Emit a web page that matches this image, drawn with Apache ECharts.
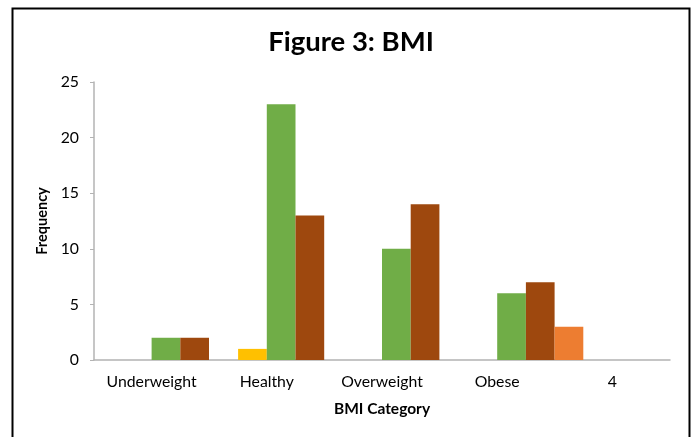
<!DOCTYPE html>
<html>
<head>
<meta charset="utf-8">
<script src="https://cdn.jsdelivr.net/npm/echarts@6/dist/echarts.min.js"></script>
<style>html,body{margin:0;padding:0;background:#fff}#c{width:691px;height:437px}</style>
</head>
<body>
<div id="c"></div>
<script>
const categories = ['Underweight', 'Healthy', 'Overweight', 'Obese', '4'];
const blankA = [null, null, null, null, null];
const blankB = [null, null, null, null, null];
const yellowSeries = [null, 1, null, null, null];
const greenSeries = [2, 23, 10, 6, null];
const brownSeries = [2, 13, 14, 7, null];
const orangeSeries = [null, null, null, 3, null];
const yTicks = [0, 5, 10, 15, 20, 25];

const FONT = 'Lato';
const chart = echarts.init(document.getElementById('c'), null, {renderer: 'canvas'});
function bar(name, data, color) {
  return {name, type: 'bar', data, barWidth: 28.7, barGap: '0%',
    itemStyle: {color}, animation: false, silent: true};
}
chart.setOption({
  animation: false,
  textStyle: {fontFamily: FONT},
  graphic: [
    {type: 'rect', shape: {x: 12.5, y: 8.5, width: 677, height: 440},
      style: {fill: 'none', stroke: '#000', lineWidth: 2}, silent: true},
    {type: 'text', x: 351, y: 28,
      style: {text: 'Figure 3: BMI', fontFamily: FONT, fontWeight: 'bold', fontSize: 27.5,
        fill: '#000', textAlign: 'center', textVerticalAlign: 'top'}}
  ],
  grid: {left: 94, right: 21, top: 82, bottom: 77},
  xAxis: {
    type: 'category', data: categories,
    name: 'BMI Category', nameLocation: 'middle', nameGap: 41,
    nameTextStyle: {fontFamily: FONT, fontWeight: 'bold', fontSize: 15.5, color: '#000'},
    axisLine: {lineStyle: {color: '#b3b3b3', width: 1.5}},
    axisTick: {show: false},
    axisLabel: {fontFamily: FONT, fontSize: 15.8, color: '#000', margin: 14,
      interval: 0, hideOverlap: false}
  },
  yAxis: {
    type: 'value', min: 0, max: 25, interval: 5,
    name: 'Frequency', nameLocation: 'middle', nameRotate: 90, nameGap: 42,
    nameTextStyle: {fontFamily: FONT, fontWeight: 'bold', fontSize: 14.5, color: '#000'},
    axisLine: {show: true, lineStyle: {color: '#b3b3b3', width: 1.5}},
    axisTick: {show: true, length: 4, lineStyle: {color: '#b3b3b3'}},
    splitLine: {show: false},
    axisLabel: {fontFamily: FONT, fontSize: 15.8, color: '#000', margin: 15,
      formatter: v => yTicks.includes(v) ? String(v) : ''}
  },
  series: [
    bar('blankA', blankA, '#5b9bd5'),
    bar('blankB', blankB, '#a5a5a5'),
    bar('Yellow', yellowSeries, '#ffc000'),
    bar('Green', greenSeries, '#70ad47'),
    bar('Brown', brownSeries, '#9e480e'),
    bar('Orange', orangeSeries, '#ed7d31')
  ]
});
</script>
</body>
</html>
